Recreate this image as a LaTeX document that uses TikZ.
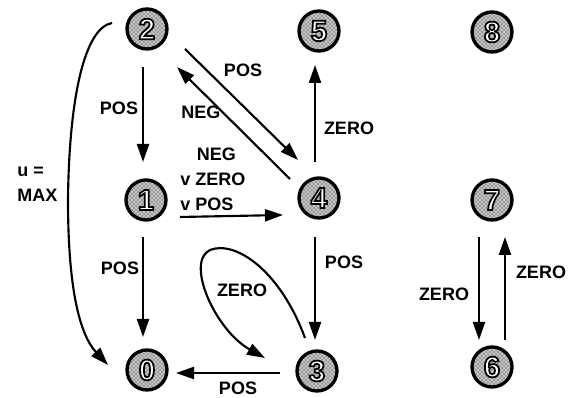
\documentclass[tikz,border=0pt]{standalone}
\usepackage{fontspec}
\setmainfont{Liberation Sans}
\usetikzlibrary{arrows.meta,patterns}
% outlined (hollow) digits: white fill, black stroke
\newcommand\hollowdigit[1]{\special{pdf:literal direct q 2 Tr 1.3 w 0 G 1 g}#1\special{pdf:literal direct Q}}
\begin{document}
\begin{tikzpicture}[x=0.75pt,y=-0.75pt,
  state/.style={circle,draw,line width=2.5pt,minimum size=30pt,inner sep=0pt,
    preaction={fill=black!22},pattern=crosshatch dots,pattern color=black,
    font=\fontsize{22}{22}\selectfont\bfseries},
  arr/.style={line width=1.6pt,-{Triangle[length=13.5pt,width=9pt]}},
  curvearr/.style={line width=1.6pt,-{Triangle[length=13.5pt,width=9pt]}},
  lbl/.style={font=\fontsize{13.5}{18.5}\selectfont\bfseries,inner sep=0pt}]
\useasboundingbox (0,0) rectangle (576,398);

% states
\node[state] (n2) at (147,29)  {\hollowdigit{2}};
\node[state] (n5) at (319,31)  {\hollowdigit{5}};
\node[state] (n8) at (492,32)  {\hollowdigit{8}};
\node[state] (n1) at (146,200) {\hollowdigit{1}};
\node[state] (n4) at (319,198) {\hollowdigit{4}};
\node[state] (n7) at (492,200) {\hollowdigit{7}};
\node[state] (n0) at (147,370) {\hollowdigit{0}};
\node[state] (n3) at (317,371) {\hollowdigit{3}};
\node[state] (n6) at (492,367) {\hollowdigit{6}};

% transitions
\draw[arr] ([shift={(-4,38)}]n2.center) -- ([shift={(-3,-38)}]n1.center);
\draw[arr] ([shift={(-3,37)}]n1.center) -- ([shift={(-4,-33)}]n0.center);
\draw[arr] ([shift={(34,17)}]n1.center) -- ([shift={(-36,17)}]n4.center);
\draw[arr] ([shift={(38,20)}]n2.center) -- ([shift={(-21,-38)}]n4.center);
\draw[arr] ([shift={(-29,-19)}]n4.center) -- ([shift={(30,38)}]n2.center);
\draw[arr] ([shift={(-4,-36)}]n4.center) -- ([shift={(-4,34)}]n5.center);
\draw[arr] ([shift={(-4,39)}]n4.center) -- ([shift={(-2,-31)}]n3.center);
\draw[arr] ([shift={(-37,2)}]n3.center) -- ([shift={(29,3)}]n0.center);
\draw[arr] ([shift={(-13,37)}]n7.center) -- ([shift={(-13,-27)}]n6.center);
\draw[arr] ([shift={(13,-27)}]n6.center) -- ([shift={(13,37)}]n7.center);
% self loop on 3
\draw[curvearr] ([shift={(-12,-33)}]n3.center)
  .. controls (280,270) and (235,240) .. (210,250)
  .. controls (185,262) and (215,330) .. ([shift={(-52,-13)}]n3.center);
% long transition from 2 to 0
\draw[curvearr] ([shift={(-35,-6)}]n2.center)
  .. controls (84,28) and (69,100) .. (68,200)
  .. controls (68,290) and (80,335) .. ([shift={(-39,-5)}]n0.center);

% labels
\node[lbl] at (119,108) {POS};
\node[lbl] at (120,268) {POS};
\node[lbl] at (201,112) {NEG};
\node[lbl] at (243,70) {POS};
\node[lbl] at (349,128) {ZERO};
\node[lbl] at (344,262) {POS};
\node[lbl] at (242,290) {ZERO};
\node[lbl] at (238,388) {POS};
\node[lbl] at (444,294) {ZERO};
\node[lbl] at (541,272) {ZERO};
\node[lbl,align=left,anchor=north west] at (180,148) {\hspace*{12.5pt}NEG\\v ZERO\\v POS};
\node[lbl,align=left,anchor=north west] at (17,167) {u =\\MAX};
\end{tikzpicture}
\end{document}
